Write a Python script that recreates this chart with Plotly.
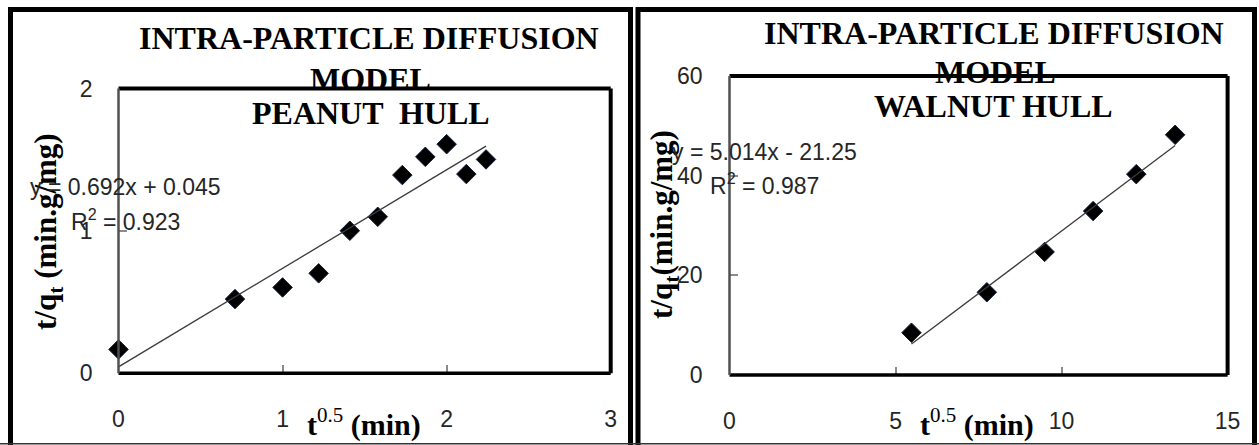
import numpy as np
import plotly.graph_objects as go

W, H = 1259, 445

# Peanut hull: t^0.5 (min^0.5) vs t/qt (min.g/mg)
peanut_sqrt_t = [0, 0.71, 1.0, 1.22, 1.41, 1.58, 1.73, 1.87, 2.0, 2.12, 2.24]
peanut_t_qt = [0.168, 0.521, 0.603, 0.702, 1.001, 1.099, 1.392, 1.520, 1.609, 1.399, 1.502]
peanut_fit = {"slope": 0.692, "intercept": 0.045, "r2": 0.923}
peanut_xticks = [0, 1, 2, 3]
peanut_yticks = [0, 1, 2]

# Walnut hull
walnut_sqrt_t = [5.48, 7.75, 9.49, 10.95, 12.25, 13.42]
walnut_t_qt = [8.49, 16.6, 24.7, 32.9, 40.3, 48.2]
walnut_fit = {"slope": 5.014, "intercept": -21.25, "r2": 0.987}
walnut_xticks = [0, 5, 10, 15]
walnut_yticks = [0, 20, 40, 60]


def px(x):
    return x / W


def py(y):
    return 1 - y / H


TICK_FONT = dict(family="Liberation Sans", size=23, color="#262626")
SERIF = "Liberation Serif"

fig = go.Figure()


def add_panel(xs, ys, fit, xa, ya):
    fig.add_trace(go.Scatter(
        x=xs, y=ys, mode="markers", xaxis=xa, yaxis=ya,
        marker=dict(symbol="diamond", size=15, color="black",
                    line=dict(color="#10203a", width=1)),
        cliponaxis=False, showlegend=False))
    xl = np.array([min(xs), max(xs)])
    fig.add_trace(go.Scatter(
        x=xl, y=fit["slope"] * xl + fit["intercept"], mode="lines",
        xaxis=xa, yaxis=ya, line=dict(color="#3a3a3a", width=1.3),
        showlegend=False, cliponaxis=False))


add_panel(peanut_sqrt_t, peanut_t_qt, peanut_fit, "x", "y")
add_panel(walnut_sqrt_t, walnut_t_qt, walnut_fit, "x2", "y2")

axis_common = dict(showgrid=False, zeroline=False, showline=False,
                   automargin=False,
                   ticks="inside", ticklen=8, tickcolor="#8a8a8a",
                   tickwidth=1.5, tickfont=TICK_FONT)

fig.update_layout(
    width=W, height=H, autosize=False,
    margin=dict(l=0, r=0, t=0, b=0, pad=0),
    paper_bgcolor="white", plot_bgcolor="white",
    xaxis=dict(domain=[px(118.5), px(610.7)], range=[0, 3],
               tickvals=peanut_xticks, anchor="y",
               ticklabelstandoff=30, **axis_common),
    yaxis=dict(domain=[py(373.3), py(88.5)], range=[0, 2],
               tickvals=peanut_yticks, anchor="x",
               ticklabelstandoff=25, **axis_common),
    xaxis2=dict(domain=[px(729.5), px(1227.6)], range=[0, 15],
                tickvals=walnut_xticks, anchor="y2",
                ticklabelstandoff=30, **axis_common),
    yaxis2=dict(domain=[py(375), py(76)], range=[0, 60],
                tickvals=walnut_yticks, anchor="x2",
                ticklabelstandoff=26, **axis_common),
)

# Plot-area frames
for xa, ya in (("x", "y"), ("x2", "y2")):
    xr, yr = xa + " domain", ya + " domain"
    for (x0, y0, x1, y1, col, w) in ((0, 1, 1, 1, "black", 4),
                                    (1, 0, 1, 1, "black", 4),
                                    (0, 0, 1, 0, "black", 3.5),
                                    (0, 0, 0, 1, "#505050", 2.5)):
        fig.add_shape(type="line", xref=xr, yref=yr, x0=x0, y0=y0,
                      x1=x1, y1=y1, line=dict(color=col, width=w))

# Outer panel borders
for (l, r) in ((10.5, 630.5), (638, 1254.5)):
    fig.add_shape(type="rect", xref="paper", yref="paper",
                  x0=px(l), x1=px(r), y0=py(470), y1=py(9.5),
                  line=dict(color="black", width=5))
fig.add_shape(type="line", xref="paper", yref="paper",
              x0=0, x1=1, y0=py(443.8), y1=py(443.8),
              line=dict(color="#333333", width=1.5))


def text(x, y, s, size, family=SERIF, angle=0, color="black"):
    fig.add_annotation(xref="paper", yref="paper", x=px(x), y=py(y),
                       text=s, showarrow=False, textangle=angle,
                       xanchor="center", yanchor="middle",
                       font=dict(family=family, size=size, color=color))


# Titles
text(369, 38, "<b>INTRA-PARTICLE DIFFUSION</b>", 32)
text(370, 79, "<b>MODEL</b>", 32)
text(370.5, 113, "<b>PEANUT  HULL</b>", 32)
text(994, 33, "<b>INTRA-PARTICLE DIFFUSION</b>", 32)
text(995, 72, "<b>MODEL</b>", 32)
text(993, 106, "<b>WALNUT HULL</b>", 32)

# Axis titles
text(48, 232, "<b>t/q<sub>t</sub> (min.g/mg)</b>", 31, angle=-90)
text(664, 225, "<b>t/q<sub>t</sub>(min.g/mg)</b>", 31, angle=-90)
text(364, 422, "<b>t</b><sup>0.5</sup><b> (min)</b>", 30)
text(977, 422, "<b>t</b><sup>0.5</sup><b> (min)</b>", 30)

# Trendline equations
for (cx, y1, y2, fit) in ((125, 187, 220, peanut_fit),
                          (764, 152, 184, walnut_fit)):
    sign = "+" if fit["intercept"] >= 0 else "-"
    eq = f"y = {fit['slope']:.3f}x {sign} {abs(fit['intercept']):g}"
    text(cx, y1, eq, 23, family="Liberation Sans", color="#262626")
    text(cx, y2, f"R<sup>2</sup> = {fit['r2']:.3f}", 23,
         family="Liberation Sans", color="#262626")

fig.write_html("out.html")
